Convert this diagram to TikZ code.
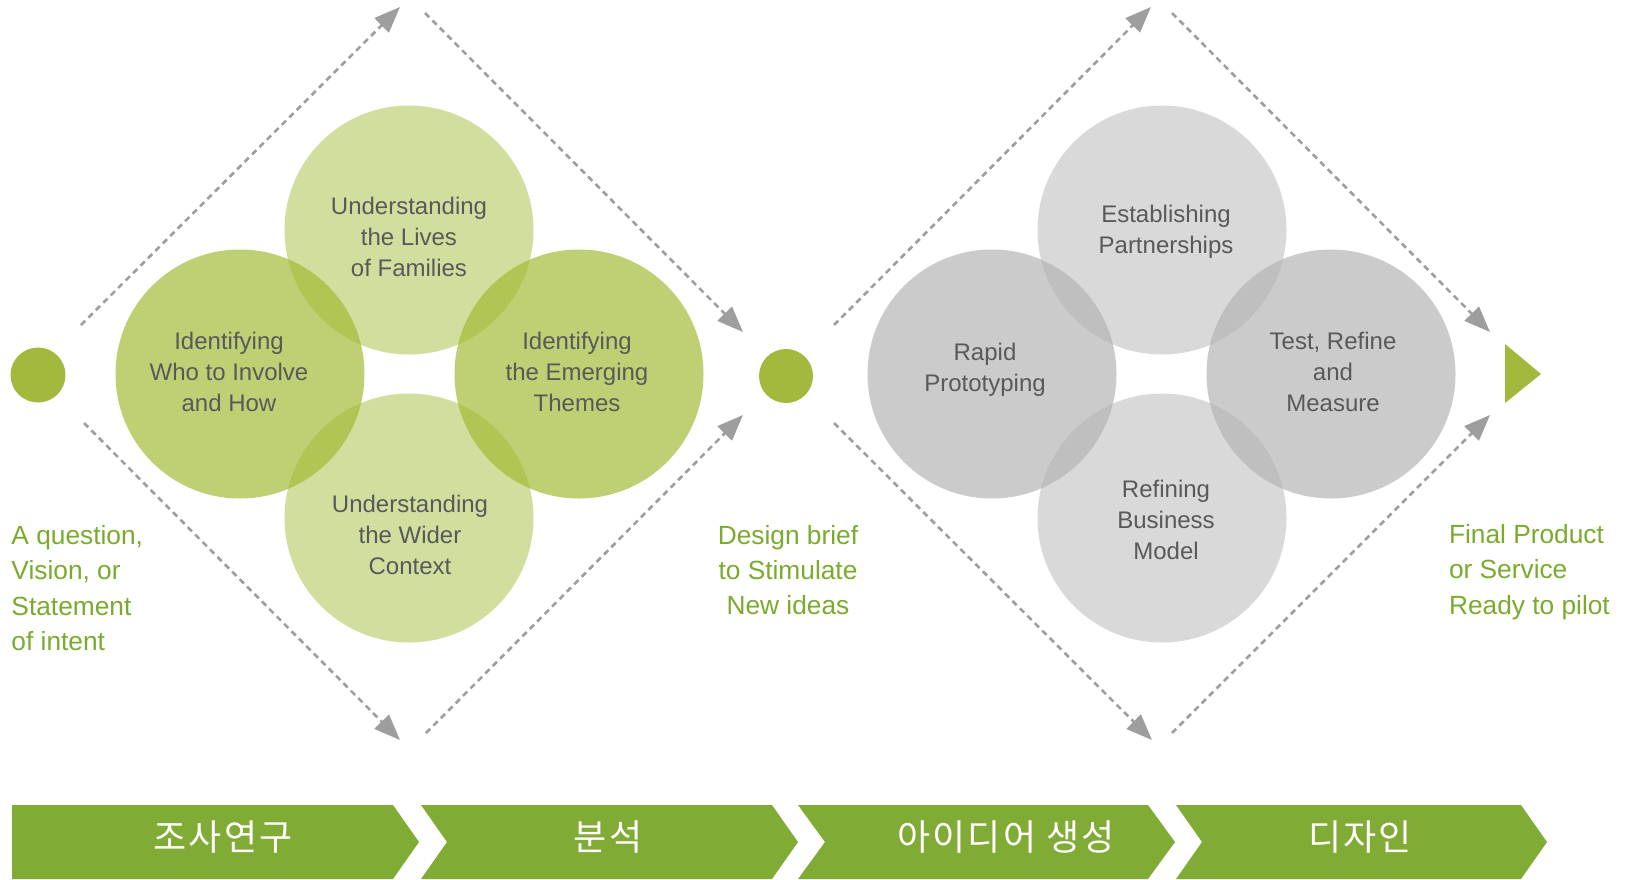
\documentclass[tikz,border=0pt]{standalone}
\usepackage{fontspec}
\setmainfont{Liberation Sans}
\newfontfamily\cjk[LetterSpace=6]{Noto Sans CJK KR}
\usetikzlibrary{arrows.meta}
\definecolor{leafgreen}{RGB}{159,185,49}
\definecolor{bargreen}{RGB}{128,171,52}
\definecolor{dotgreen}{RGB}{163,185,62}
\definecolor{labelgreen}{RGB}{122,170,46}
\definecolor{stonegray}{RGB}{179,179,179}
\definecolor{arrowgray}{RGB}{158,158,158}
\definecolor{textgray}{RGB}{89,89,89}

\begin{document}
\begin{tikzpicture}[x=1pt,y=-1pt,
  every node/.style={inner sep=0pt, outer sep=0pt},
  bubble/.style={circle, minimum size=249pt},
  lightleaf/.style={bubble, fill=leafgreen, fill opacity=0.47},
  darkleaf/.style={bubble, fill=leafgreen, fill opacity=0.68},
  lightstone/.style={bubble, fill=stonegray, fill opacity=0.5},
  darkstone/.style={bubble, fill=stonegray, fill opacity=0.69},
  bubbletext/.style={text=textgray, align=center, font=\fontsize{24}{31}\selectfont},
  phase/.style={text=labelgreen, font=\fontsize{26.3}{35.3}\selectfont},
  flow/.style={arrowgray, line width=2.6pt, dash pattern=on 6pt off 4.5pt, -{Triangle[length=26pt,width=20pt]}},
  stage/.style={text=white, font=\cjk\fontsize{36}{40}\selectfont}]
\useasboundingbox (0,0) rectangle (1630,879);

\node[lightleaf] (lives) at (409,230) {};
\node[darkleaf] (who) at (240,374) {};
\node[darkleaf] (themes) at (579,374) {};
\node[lightleaf] (wider) at (409,518) {};
\node[bubbletext] (lives text) at (409,237) {Understanding\\the Lives\\of Families};
\node[bubbletext] (who text) at (229,372) {Identifying\\Who to Involve\\and How};
\node[bubbletext] (themes text) at (577,372) {Identifying\\the Emerging\\Themes};
\node[bubbletext] (wider text) at (410,535) {Understanding\\the Wider\\Context};

\node[lightstone] (partner) at (1162,230) {};
\node[darkstone] (rapid) at (992,374) {};
\node[darkstone] (measure) at (1331,374) {};
\node[lightstone] (model) at (1162,518) {};
\node[bubbletext] (partner text) at (1166,232) {Establishing\\Partnerships};
\node[bubbletext] (rapid text) at (985,370) {Rapid\\Prototyping};
\node[bubbletext] (measure text) at (1333,372) {Test, Refine\\and\\Measure};
\node[bubbletext] (model text) at (1166,520) {Refining\\Business\\Model};

\node[circle, fill=dotgreen, minimum size=55pt] (start) at (38,375) {};
\node[circle, fill=dotgreen, minimum size=54pt] (brief) at (786,376) {};
\fill[dotgreen] (1505,344) -- (1541,374) -- (1505,403) -- cycle;

\node[phase, anchor=west, align=left] (question) at (11.5,588) {A question,\\Vision, or\\Statement\\of intent};
\node[phase, align=center] (design) at (788,570) {Design brief\\to Stimulate\\New ideas};
\node[phase, anchor=west, align=left] (final) at (1449,572) {Final Product\\or Service\\Ready to pilot};

\coordinate (l1) at (81,325);
\coordinate (l2) at (400,7);
\coordinate (l3) at (425,13);
\coordinate (l4) at (743,332);
\coordinate (l5) at (84,423);
\coordinate (l6) at (400,740);
\coordinate (l7) at (426,733);
\coordinate (l8) at (743,415);
\draw[flow] (l1) -- (l2);
\draw[flow] (l3) -- (l4);
\draw[flow] (l5) -- (l6);
\draw[flow] (l7) -- (l8);

\coordinate (r1) at (834,325);
\coordinate (r2) at (1151,7);
\coordinate (r3) at (1172,13);
\coordinate (r4) at (1490,332);
\coordinate (r5) at (834,423);
\coordinate (r6) at (1152,740);
\coordinate (r7) at (1172,733);
\coordinate (r8) at (1490,415);
\draw[flow] (r1) -- (r2);
\draw[flow] (r3) -- (r4);
\draw[flow] (r5) -- (r6);
\draw[flow] (r7) -- (r8);

\fill[bargreen] (12,805) -- (393,805) -- (419,842) -- (393,879) -- (12,879) -- cycle;
\fill[bargreen] (421,805) -- (772,805) -- (798,842) -- (772,879) -- (421,879) -- (447,842) -- cycle;
\fill[bargreen] (798,805) -- (1148,805) -- (1175,842) -- (1148,879) -- (798,879) -- (825,842) -- cycle;
\fill[bargreen] (1176,805) -- (1521,805) -- (1547,842) -- (1521,879) -- (1176,879) -- (1202,842) -- cycle;
\node[stage] (research) at (223,837) {조사연구};
\node[stage] (analysis) at (608,837) {분석};
\node[stage] (ideation) at (1006,837) {아이디어 생성};
\node[stage] (design stage) at (1360,837) {디자인};
\end{tikzpicture}
\end{document}
